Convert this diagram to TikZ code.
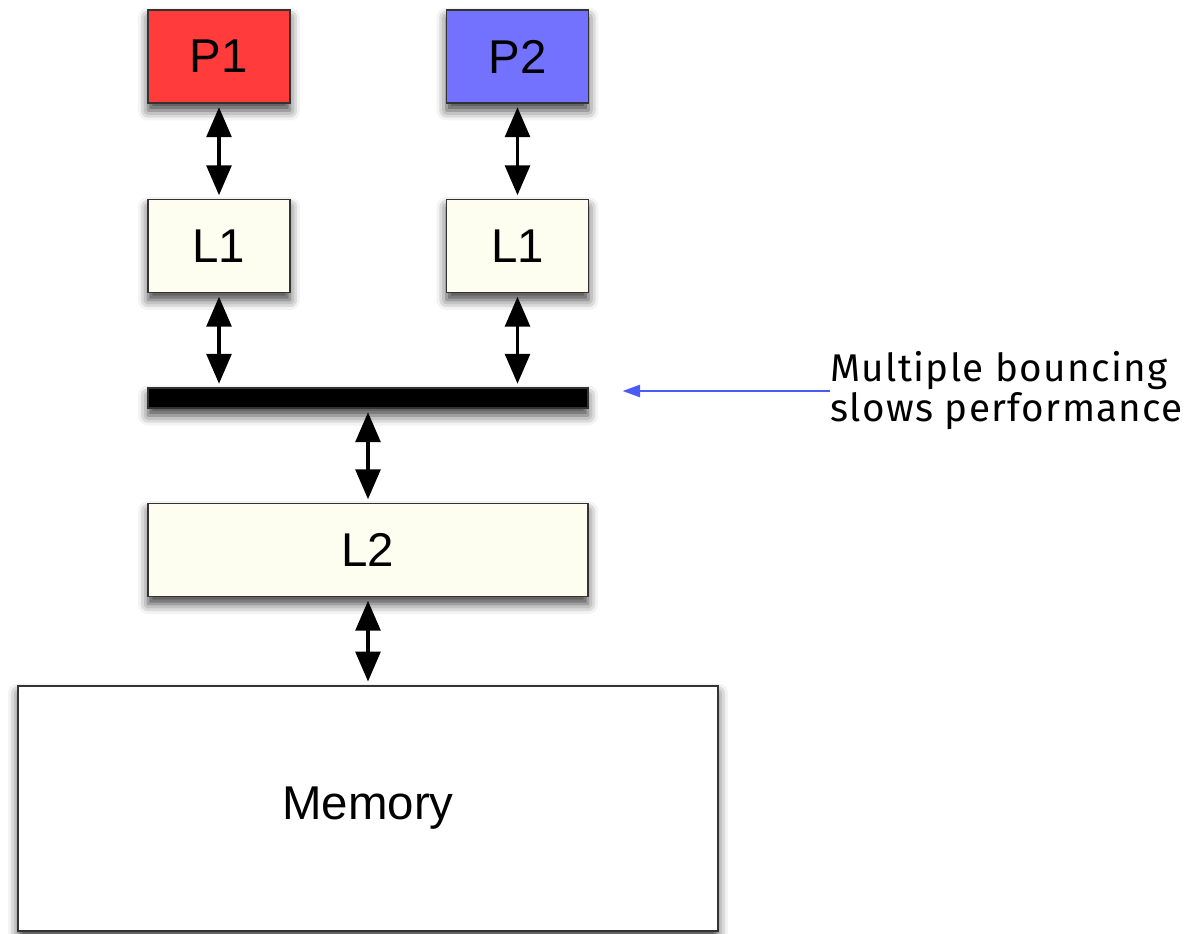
\documentclass[tikz,border=0pt]{standalone}
\usepackage{fontspec}
\usepackage{tikz}
\usetikzlibrary{arrows.meta,shadows.blur,positioning}
\newfontfamily\boxfont{Liberation Sans}
\newfontfamily\notefont[LetterSpace=3.5]{Fira Sans}
\definecolor{cpured}{HTML}{FF3B3B}
\definecolor{cpublue}{HTML}{7272FF}
\definecolor{cacheivory}{HTML}{FDFDF0}
\definecolor{noteblue}{HTML}{4A5AF5}

\begin{document}
\begin{tikzpicture}[x=0.02cm, y=-0.02cm,
    box/.style={draw=black!80, line width=0.8pt, minimum width=2.84cm, minimum height=1.86cm, inner sep=0pt, font=\boxfont\fontsize{27}{30}\selectfont, blur shadow={shadow xshift=0pt, shadow yshift=-0.15cm, shadow blur radius=0.2cm, shadow opacity=75}},
    link/.style={{Triangle[length=17pt,width=14pt]}-{Triangle[length=17pt,width=14pt]}, line width=2.2pt, shorten <=2pt, shorten >=2pt}]
    \useasboundingbox (0,0) rectangle (1203,933);

    \node [box, fill=cpured] (p1) at (219,56.5) {P1};
    \node [box, fill=cpublue] (p2) at (517.5,56.5) {P2};
    \node [box, fill=cacheivory] (l1a) at (219,246) {L1};
    \node [box, fill=cacheivory] (l1b) at (517.5,246) {L1};
    \node [box, fill=black, minimum width=8.8cm, minimum height=0.4cm] (bus) at (368,398) {};
    \node [box, fill=cacheivory, minimum width=8.8cm] (l2) at (368,550) {L2};
    \node [box, fill=white, line width=1.1pt, minimum width=14cm, minimum height=4.9cm] (mem) at (368,808.5) {Memory};
    \node [anchor=west, inner sep=0pt, align=left, font=\notefont\fontsize{22}{22.8}\selectfont] (note) at (830,391) {Multiple bouncing\\slows performance};

    \draw [link] (p1.south) -- (l1a.north);
    \draw [link] (p2.south) -- (l1b.north);

    \draw [link] (l1a.south) -- (l1a.south |- bus.north);
    \draw [link] (l1b.south) -- (l1b.south |- bus.north);

    \draw [link] (bus.south) -- (l2.north);
    \draw [link] (l2.south) -- (mem.north);

    \draw [-{Triangle[length=10pt,width=7pt]}, noteblue, line width=1.1pt, shorten >=0.68cm] (note.west) -- (note.west -| bus.east);
\end{tikzpicture}
\end{document}
